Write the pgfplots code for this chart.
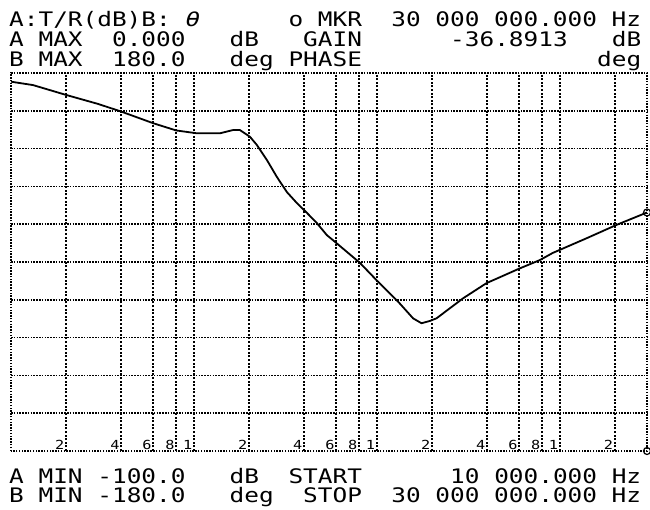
\documentclass[border=0pt]{standalone}
\usepackage{fontspec}
\usepackage{pgfplots}
\pgfplotsset{compat=1.18}
\newfontfamily\pf[FakeStretch=1.22]{DejaVu Sans Mono}
\newcommand\T[3]{\node[anchor=base west,inner sep=0pt] at ({9pt+#1*14.7pt},{#2pt}) {\fontsize{20}{20}\selectfont\pf #3};}
\begin{document}
\begin{tikzpicture}
\useasboundingbox (0pt,0pt) rectangle (650pt,509pt);
% header
\T{0}{482}{A:T/R(dB)B:}
\T{12}{482}{\itshape θ}
\T{19}{482}{o}
\T{21}{482}{MKR}
\T{26}{482}{30 000 000.000 Hz}
\T{0}{462}{A MAX}
\T{7}{462}{0.000}
\T{15}{462}{dB}
\T{20}{462}{GAIN}
\T{30}{462}{-36.8913}
\T{41}{462}{dB}
\T{0}{442}{B MAX}
\T{7}{442}{180.0}
\T{15}{442}{deg}
\T{19}{442}{PHASE}
\T{40}{442}{deg}
% footer
\T{0}{26}{A MIN}
\T{6}{26}{-100.0}
\T{15}{26}{dB}
\T{19}{26}{START}
\T{30}{26}{10 000.000 Hz}
\T{0}{7}{B MIN}
\T{6}{7}{-180.0}
\T{15}{7}{deg}
\T{20}{7}{STOP}
\T{26}{7}{30 000 000.000 Hz}
\begin{axis}[
  at={(11pt,58pt)}, anchor=south west,
  scale only axis, width=636pt, height=378pt,
  xmode=log, xmin=1e4, xmax=3e7, ymin=-100, ymax=0,
  ytick={-90,-80,-70,-60,-50,-40,-30,-20,-10},
  yticklabels={},
  xtick={2e4,4e4,6e4,8e4,1e5,2e5,4e5,6e5,8e5,1e6,2e6,4e6,6e6,8e6,1e7,2e7},
  xticklabels={2,4,6,8,1,2,4,6,8,1,2,4,6,8,1,2},
  major tick length=0pt,
  grid=major,
  x grid style={black, line width=2pt, dash pattern=on 2pt off 1.6pt},
  y grid style={black, line width=1.6pt, dash pattern=on 1.5pt off 1.3pt},
  axis line style={black, line width=1.6pt, dash pattern=on 1.5pt off 1.3pt},
  xticklabel style={anchor=south east, inner sep=1.5pt, font=\fontsize{12.5}{12.5}\selectfont\pf},
  clip=false,
]
\addplot[black, line width=1.8pt] coordinates {
(1e4,-2.3) (1.32e4,-3.2) (2e4,-5.8) (3e4,-8.2) (4e4,-10.2) (6e4,-13.3) (8e4,-15.2)
(1.038e5,-15.95) (1.387e5,-15.95) (1.634e5,-15.1) (1.784e5,-15.1) (2.023e5,-16.85)
(2.21e5,-19.05) (2.505e5,-23.0) (2.842e5,-27.5) (3.223e5,-31.5) (3.654e5,-34.4)
(4.146e5,-37.0) (4.70e5,-39.7) (5.332e5,-42.9) (5.75e5,-44.2) (8.07e5,-50.2)
(9.96e5,-54.8) (1.308e6,-60.5) (1.578e6,-64.9) (1.755e6,-66.2) (1.948e6,-65.6)
(2.12e6,-64.9) (2.962e6,-59.6) (3.975e6,-55.6) (6.04e6,-51.7) (7.78e6,-49.5)
(9.16e6,-47.6) (1.405e7,-43.7) (2.04e7,-40.2) (3e7,-36.9)
};
\addplot[only marks, mark=o, mark size=3.5pt, line width=1.2pt, black] coordinates {(3e7,-36.9) (3e7,-100)};
\end{axis}
\end{tikzpicture}
\end{document}
